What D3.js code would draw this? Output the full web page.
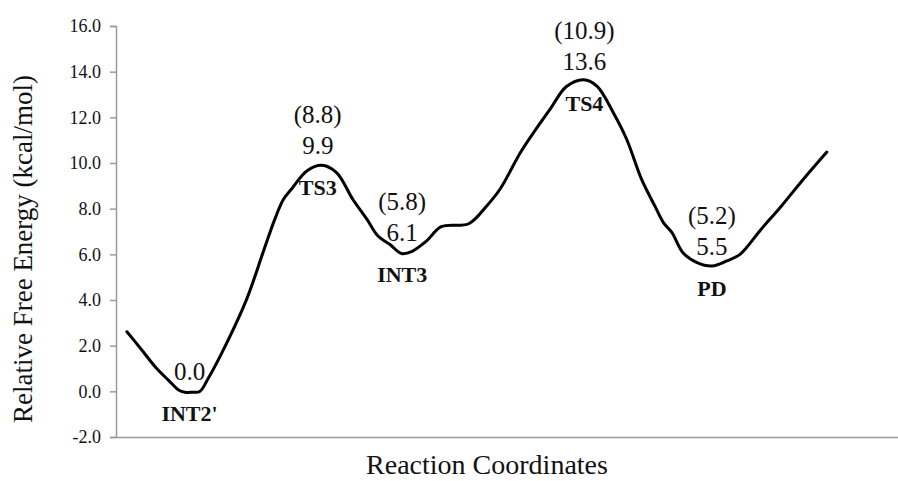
<!DOCTYPE html>
<html>
<head>
<meta charset="utf-8">
<script src="https://cdn.jsdelivr.net/npm/d3@7"></script>
<style>
  body { margin: 0; background: #fff; }
  text { font-family: "Liberation Serif", "Times New Roman", serif; fill: #111; }
</style>
</head>
<body>
<svg id="chart" width="898" height="481"></svg>
<script>
// curve traced along the reaction coordinate
const rxCoord = [0.14, 0.33, 0.50, 0.67, 0.80, 0.88, 0.98, 1.07, 1.18, 1.35, 1.67, 1.88, 2.03, 2.14, 2.26, 2.44, 2.63,
  2.82, 3.03, 3.21, 3.35, 3.50, 3.65, 3.78, 3.97, 4.16, 4.51, 4.74, 4.91, 5.17, 5.34, 5.55, 5.76, 5.98,
  6.15, 6.36, 6.53, 6.72, 6.89, 7.00, 7.11, 7.25, 7.43, 7.62, 7.81, 7.98, 8.25, 8.51, 8.79, 9.09];
const energy = [2.61, 1.81, 1.08, 0.49, 0.06, -0.04, -0.04, -0.01, 0.57, 1.66, 4.03, 6.08, 7.53, 8.40, 8.93, 9.65, 9.90,
  9.58, 8.40, 7.53, 6.80, 6.44, 6.04, 6.12, 6.58, 7.21, 7.34, 8.12, 8.85, 10.45, 11.33, 12.35, 13.35, 13.65,
  13.37, 12.20, 11.04, 9.29, 8.12, 7.39, 6.95, 6.07, 5.64, 5.49, 5.71, 6.00, 7.10, 8.12, 9.29, 10.48];

// stationary points
const species = ["INT2'", "TS3", "INT3", "TS4", "PD"];
const speciesX = [0.94, 2.58, 3.66, 5.99, 7.62];
const speciesE = ["0.0", "9.9", "6.1", "13.6", "5.5"];
const speciesAlt = [null, "(8.8)", "(5.8)", "(10.9)", "(5.2)"];

const yTicks = [-2, 0, 2, 4, 6, 8, 10, 12, 14, 16];

const width = 898, height = 481;
const margin = { top: 26, right: 0, bottom: 44, left: 116 };
const serif = "'Liberation Serif', 'Times New Roman', serif";

const svg = d3.select("#chart");

const x = d3.scaleLinear()
    .domain([0, 10])
    .range([margin.left, width - margin.right]);

const y = d3.scaleLinear()
    .domain([-2, 16])
    .range([height - margin.bottom, margin.top]);

// y axis
const yAxis = svg.append("g")
    .attr("transform", `translate(${margin.left},0)`)
    .call(d3.axisLeft(y).tickValues(yTicks).tickFormat(d => d.toFixed(1)).tickSize(6).tickPadding(9))
    .attr("font-family", serif)
    .attr("font-size", 18);
yAxis.select(".domain").attr("stroke", "#9a9a9a").attr("stroke-width", 1.5);
yAxis.selectAll(".tick line").attr("stroke", "#9a9a9a").attr("stroke-width", 1.5);
yAxis.selectAll(".tick text")
    .style("font-family", serif)
    .style("font-size", "18px")
    .attr("fill", "#111");

// x axis (no ticks)
const xAxis = svg.append("g")
    .attr("transform", `translate(0,${height - margin.bottom})`)
    .call(d3.axisBottom(x).tickValues([]).tickSizeOuter(0));
xAxis.select(".domain").attr("stroke", "#9a9a9a").attr("stroke-width", 1.5);

// energy profile
const line = d3.line()
    .x((d, i) => x(rxCoord[i]))
    .y(d => y(d))
    .curve(d3.curveCatmullRom.alpha(0.5));

svg.append("path")
    .datum(energy)
    .attr("d", line)
    .attr("fill", "none")
    .attr("stroke", "#000")
    .attr("stroke-width", 3)
    .attr("stroke-linejoin", "round")
    .attr("stroke-linecap", "round");

// labels
const labels = svg.append("g");
species.forEach((name, i) => {
    const cx = x(speciesX[i]);
    const cy = y(+speciesE[i]);
    labels.append("text")
        .attr("x", cx).attr("y", cy - 11)
        .attr("text-anchor", "middle")
        .style("font-size", "25px")
        .text(speciesE[i]);
    if (speciesAlt[i]) {
        labels.append("text")
            .attr("x", cx).attr("y", cy - 42)
            .attr("text-anchor", "middle")
            .style("font-size", "25px")
            .text(speciesAlt[i]);
    }
    labels.append("text")
        .attr("x", cx).attr("y", cy + 30)
        .attr("text-anchor", "middle")
        .style("font-size", "22px")
        .style("font-weight", "bold")
        .text(name);
});

// axis titles
svg.append("text")
    .attr("x", 487)
    .attr("y", 474)
    .attr("text-anchor", "middle")
    .style("font-size", "28px")
    .text("Reaction Coordinates");

svg.append("text")
    .attr("transform", "rotate(-90)")
    .attr("x", -249)
    .attr("y", 32)
    .attr("text-anchor", "middle")
    .style("font-size", "27px")
    .text("Relative Free Energy (kcal/mol)");
</script>
</body>
</html>
